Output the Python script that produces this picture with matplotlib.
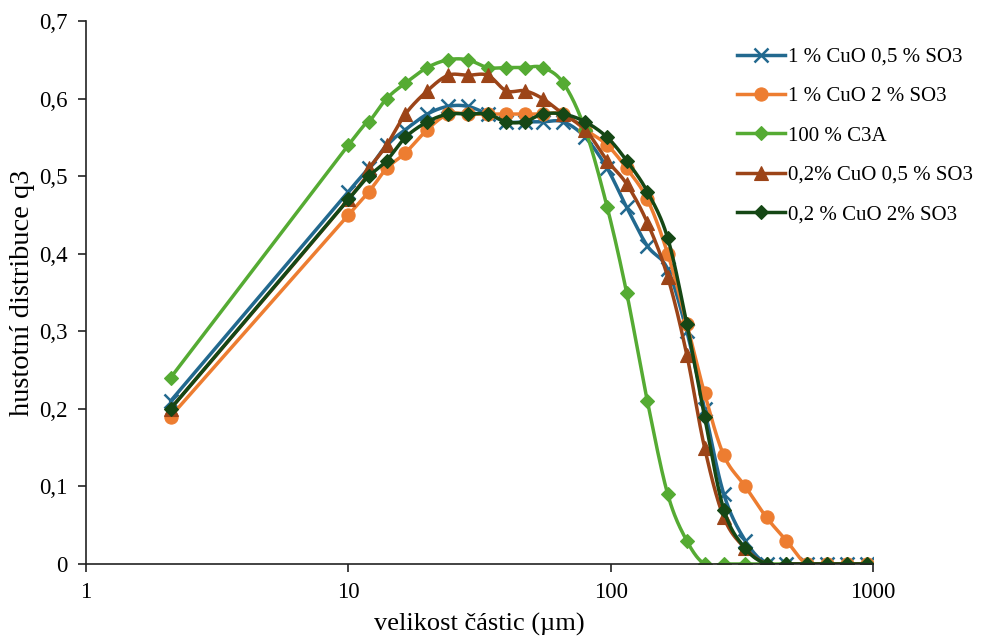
import numpy as np
import matplotlib
matplotlib.use("Agg")
import matplotlib.pyplot as plt
from matplotlib.ticker import FixedLocator, FuncFormatter

# particle size classes (um)
size_um = [2.1, 10, 12, 14, 16.5, 20, 24, 28.5, 34, 40, 47, 55, 66, 80, 97,
           115, 138, 165, 195, 228, 270, 326, 393, 468, 558, 665, 793, 949]

cuo1_so3_05 = [0.21, 0.48, 0.51, 0.54, 0.56, 0.58, 0.59, 0.59, 0.58, 0.57, 0.57, 0.57, 0.57, 0.55, 0.51,
               0.46, 0.41, 0.38, 0.30, 0.20, 0.09, 0.03, 0, 0, 0, 0, 0, 0]
cuo1_so3_2 = [0.19, 0.45, 0.48, 0.51, 0.53, 0.56, 0.58, 0.58, 0.58, 0.58, 0.58, 0.58, 0.58, 0.56, 0.54,
              0.51, 0.47, 0.40, 0.31, 0.22, 0.14, 0.10, 0.06, 0.03, 0, 0, 0, 0]
c3a_100 = [0.24, 0.54, 0.57, 0.60, 0.62, 0.64, 0.65, 0.65, 0.64, 0.64, 0.64, 0.64, 0.62, 0.56, 0.46,
           0.35, 0.21, 0.09, 0.03, 0, 0, 0, 0, 0, 0, 0, 0, 0]
cuo02_so3_05 = [0.20, 0.47, 0.51, 0.54, 0.58, 0.61, 0.63, 0.63, 0.63, 0.61, 0.61, 0.60, 0.58, 0.56, 0.52,
                0.49, 0.44, 0.37, 0.27, 0.15, 0.06, 0.02, 0, 0, 0, 0, 0, 0]
cuo02_so3_2 = [0.20, 0.47, 0.50, 0.52, 0.55, 0.57, 0.58, 0.58, 0.58, 0.57, 0.57, 0.58, 0.58, 0.57, 0.55,
               0.52, 0.48, 0.42, 0.31, 0.19, 0.07, 0.02, 0, 0, 0, 0, 0, 0]

labels = ["1 % CuO 0,5 % SO3", "1 % CuO 2 % SO3", "100 % C3A",
          "0,2% CuO 0,5 % SO3", "0,2 % CuO 2% SO3"]

plt.rcParams['font.family'] = ['Liberation Serif', 'DejaVu Serif']


def smooth(x, y, n=20):
    # Catmull-Rom curve through the points in log-x space (like Excel smoothed lines)
    lx = np.log10(x)
    y = np.asarray(y, float)
    P = np.column_stack([lx, y])
    P = np.vstack([P[0], P, P[-1]])
    out = []
    t = np.linspace(0, 1, n, endpoint=False)[:, None]
    for i in range(1, len(P) - 2):
        p0, p1, p2, p3 = P[i - 1], P[i], P[i + 1], P[i + 2]
        c = 0.5 * ((2 * p1) + (-p0 + p2) * t + (2 * p0 - 5 * p1 + 4 * p2 - p3) * t ** 2
                   + (-p0 + 3 * p1 - 3 * p2 + p3) * t ** 3)
        out.append(c)
    out.append(P[-2][None, :])
    c = np.vstack(out)
    return 10 ** c[:, 0], c[:, 1]


fig = plt.figure(figsize=(9.88, 6.36), dpi=100)
ax = fig.add_axes([86 / 988, 1 - 564 / 636, (873 - 86) / 988, (564 - 21) / 636])

series = [
    (cuo1_so3_05, '#22698F', 'x', 10, 1.8),
    (cuo1_so3_2, '#ED7D31', 'o', 9.5, 0.8),
    (c3a_100, '#55AB33', 'D', 7, 0.8),
    (cuo02_so3_05, '#9C4418', '^', 10, 0.8),
    (cuo02_so3_2, '#154715', 'D', 7.5, 0.8),
]

for (vals, col, mk, ms, mew), lab in zip(series, labels):
    sx, sy = smooth(size_um, vals)
    ax.plot(sx, sy, color=col, lw=2.5, solid_capstyle='round')
    ax.plot(size_um, vals, ls='none', marker=mk, color=col, ms=ms,
            markeredgewidth=mew, markeredgecolor=col)
    ax.plot([], [], color=col, lw=2.5, marker=mk, ms=ms,
            markeredgewidth=mew, markeredgecolor=col, label=lab)

ax.set_xscale('log')
ax.set_xlim(1, 1000)
ax.set_ylim(0, 0.7)
ax.xaxis.set_major_locator(FixedLocator([1, 10, 100, 1000]))
ax.xaxis.set_minor_locator(FixedLocator([]))
ax.xaxis.set_major_formatter(FuncFormatter(lambda v, p: f"{v:g}"))
ax.set_yticks(np.arange(0, 0.71, 0.1))
ax.yaxis.set_major_formatter(FuncFormatter(lambda v, p: "0" if abs(v) < 1e-9 else f"{v:.1f}".replace('.', ',')))

for s in ['top', 'right']:
    ax.spines[s].set_visible(False)
for s in ['left', 'bottom']:
    ax.spines[s].set_linewidth(1.2)
    ax.spines[s].set_color('#222222')
ax.tick_params(axis='both', which='major', labelsize=16.5, length=6, width=1.2,
               direction='out', color='#222222', pad=7)

ax.set_xlabel("velikost částic (µm)", fontsize=19, labelpad=7)
ax.set_ylabel("hustotní distribuce q3", fontsize=20.5, labelpad=3)

leg = ax.legend(loc='upper left', bbox_to_anchor=(0.817, 0.967), frameon=False,
                fontsize=15, handlelength=2.3, handletextpad=0.15, labelspacing=0.95,
                borderaxespad=0)

fig.savefig("out.png", dpi=100)
